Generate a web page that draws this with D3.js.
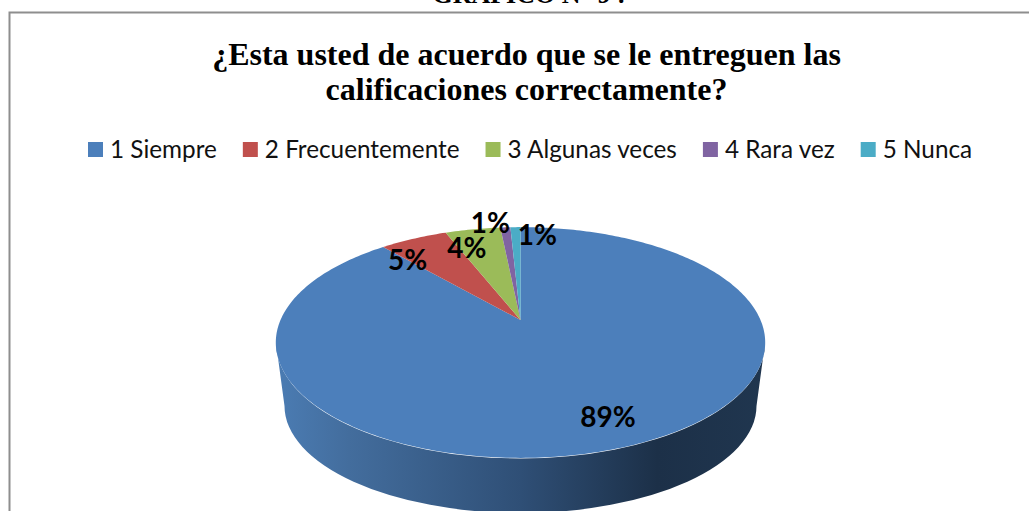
<!DOCTYPE html>
<html><head><meta charset="utf-8">
<script src="https://cdn.jsdelivr.net/npm/d3@7/dist/d3.min.js"></script>
<style>html,body{margin:0;padding:0;background:#fff;overflow:hidden}svg{display:block}</style>
</head><body><svg id="c" width="1029" height="511"></svg>
<script>
const categories = ["1 Siempre","2 Frecuentemente","3 Algunas veces","4 Rara vez","5 Nunca"];
const values = [88.6,5.4,4.4,0.8,0.8];
const colors = ["#4c7fbb","#c0504d","#9bbb59","#8064a2","#4bacc6"];
const labels = ["89%","5%","4%","1%","1%"];
const labelNudges = [[-15.5,-30],[-6,21],[-6,19],[-15,-4],[22,8]];
const titleLines = ["¿Esta usted de acuerdo que se le entreguen las","calificaciones correctamente?"];
const caption = "GRÁFICO N° 9 :";

const svg = d3.select("#c");
const apex = [520.5,320], R = 240, B = 111, K = 0.195;
const project = (a,r=1)=>{ const u=Math.sin(a)*r, v=-Math.cos(a)*r, w=1-K*v;
  return [apex[0]+R*u/w, apex[1]+B*v/w]; };

// caption cut by the top edge
svg.append("text").attr("x",529).attr("y",3).attr("text-anchor","middle")
  .attr("font-family","Liberation Serif").attr("font-weight","bold").attr("font-size",26).text(caption);

// frame
svg.append("path").attr("d","M9.5,520V12.5H1040").attr("fill","none").attr("stroke","#8e8e8e").attr("stroke-width",2);

// title
svg.selectAll("text.t").data(titleLines).join("text").attr("class","t")
  .attr("x",526.5).attr("y",(d,i)=>[65,100][i]).attr("text-anchor","middle")
  .attr("font-family","Liberation Serif").attr("font-weight","bold").attr("font-size",32).attr("fill","#000").text(d=>d);

// legend
let lx = 88;
categories.forEach((c,i)=>{
  const g = svg.append("g");
  g.append("rect").attr("x",lx).attr("y",142).attr("width",15).attr("height",15).attr("fill",colors[i]);
  const t = g.append("text").attr("x",lx+22).attr("y",158).attr("font-family","Lato").attr("font-size",24.3).attr("fill","#111").text(c);
  lx += 22 + t.node().getComputedTextLength() + 26;
});

// gradient for the side wall
const defs = svg.append("defs");
const grad = defs.append("linearGradient").attr("id","wall").attr("gradientUnits","userSpaceOnUse")
  .attr("x1",276).attr("x2",765).attr("y1",0).attr("y2",0);
[[0,"#4b7cb3"],[0.15,"#436d9d"],[0.5,"#2f4f76"],[0.78,"#1c3048"],[1,"#20364f"]].forEach(s=>grad.append("stop").attr("offset",s[0]).attr("stop-color",s[1]));

// side wall: top rim ellipse down to bottom ellipse
const topE = {cx:520.5,cy:343,rx:244.5,ry:115.5}, botE = {cx:520.5,cy:406,rx:236,ry:107};
svg.append("path").attr("fill","url(#wall)").attr("d",
  `M${topE.cx-topE.rx},${topE.cy}A${topE.rx},${topE.ry} 0 0 0 ${topE.cx+topE.rx},${topE.cy}`+
  `L${botE.cx+botE.rx},${botE.cy}A${botE.rx},${botE.ry} 0 0 1 ${botE.cx-botE.rx},${botE.cy}Z`);

// slices
const arcs = d3.pie().sort(null).startAngle(0).endAngle(2*Math.PI)(values);
const line = d3.line();
svg.selectAll("path.s").data(arcs).join("path").attr("class","s").attr("fill",(d,i)=>colors[i])
  .attr("d",d=>{ const n=Math.max(4,Math.ceil((d.endAngle-d.startAngle)*60));
    const pts=d3.range(n+1).map(j=>project(d.startAngle+(d.endAngle-d.startAngle)*j/n));
    return line([apex,...pts])+"Z"; });

// data labels
svg.selectAll("text.l").data(arcs).join("text").attr("class","l")
  .attr("x",(d,i)=>project((d.startAngle+d.endAngle)/2)[0]+labelNudges[i][0])
  .attr("y",(d,i)=>project((d.startAngle+d.endAngle)/2)[1]+labelNudges[i][1]+10)
  .attr("text-anchor","middle").attr("font-family","Lato").attr("font-weight","bold").attr("font-size",28).attr("fill","#000")
  .text((d,i)=>labels[i]);
</script></body></html>
